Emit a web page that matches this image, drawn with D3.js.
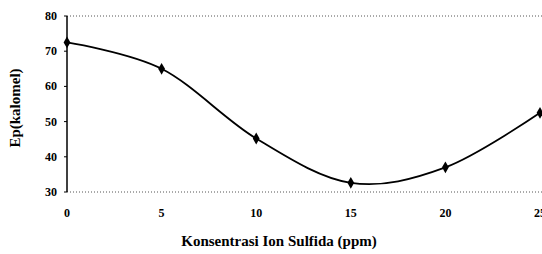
<!DOCTYPE html>
<html><head><meta charset="utf-8">
<script src="https://cdn.jsdelivr.net/npm/d3@7"></script>
<style>body{margin:0;background:#fff}svg{display:block}text{font-family:"Liberation Serif","Times New Roman",serif;font-weight:bold;fill:#000}</style>
</head><body><svg id="c" width="542" height="254"></svg>
<script>
const concentrations = [0, 5, 10, 15, 20, 25];
const potentials = [72.5, 65, 45.2, 32.6, 37, 52.5];
const xTicks = [0, 5, 10, 15, 20, 25];
const yTicks = [30, 40, 50, 60, 70, 80];

const svg = d3.select("#c");
const x = d3.scaleLinear().domain([0, 25]).range([67, 540]);
const y = d3.scaleLinear().domain([30, 80]).range([192, 16]);

[80, 30].forEach(v => {
  svg.append("line").attr("x1", x(0)).attr("x2", 542)
    .attr("y1", y(v)).attr("y2", y(v))
    .attr("stroke", "#555").attr("stroke-width", 1).attr("stroke-dasharray", "1,2");
});

svg.append("line").attr("x1", x(0)).attr("x2", x(0)).attr("y1", y(80)).attr("y2", y(30))
  .attr("stroke", "#000").attr("stroke-width", 1.5);
svg.selectAll(".yt").data(yTicks).enter().append("line")
  .attr("x1", x(0) - 3).attr("x2", x(0)).attr("y1", d => y(d)).attr("y2", d => y(d))
  .attr("stroke", "#000");

svg.selectAll(".yl").data(yTicks).enter().append("text")
  .attr("x", 57).attr("y", d => y(d) + 4).attr("text-anchor", "end")
  .attr("font-size", 12).text(d => d);
svg.selectAll(".xl").data(xTicks).enter().append("text")
  .attr("x", d => x(d)).attr("y", 217).attr("text-anchor", "middle")
  .attr("font-size", 12).text(d => d);

const line = d3.line().x((d, i) => x(concentrations[i])).y(d => y(d)).curve(d3.curveCardinal.tension(0));
svg.append("path").datum(potentials).attr("d", line)
  .attr("fill", "none").attr("stroke", "#000").attr("stroke-width", 1.8);

svg.selectAll(".m").data(potentials).enter().append("path")
  .attr("d", d3.symbol().type(d3.symbolDiamond).size(40))
  .attr("transform", (d, i) => `translate(${x(concentrations[i])},${y(d)})`)
  .attr("fill", "#000");

svg.append("text").attr("x", 279).attr("y", 246).attr("text-anchor", "middle")
  .attr("font-size", 15).text("Konsentrasi Ion Sulfida (ppm)");
svg.append("text").attr("transform", "translate(20,108) rotate(-90)").attr("text-anchor", "middle")
  .attr("font-size", 15).text("Ep(kalomel)");
</script></body></html>
